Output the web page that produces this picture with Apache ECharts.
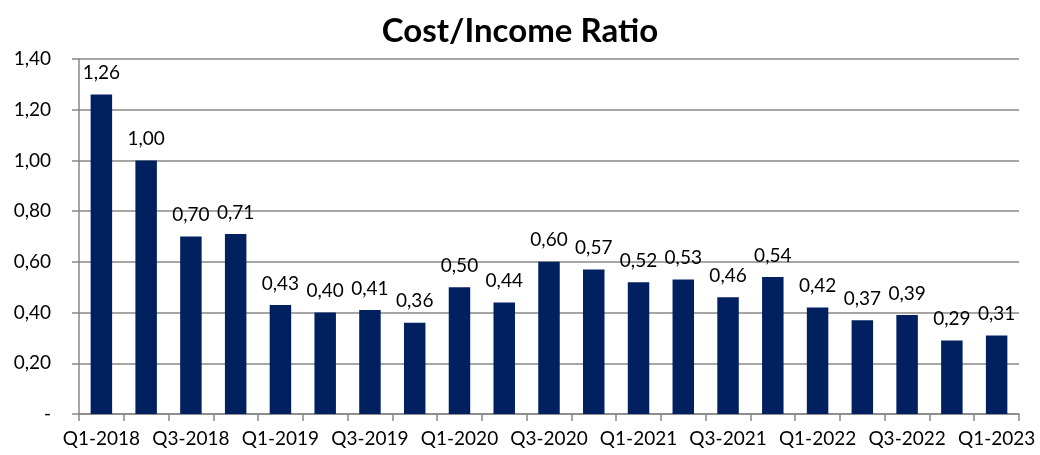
<!DOCTYPE html>
<html><head><meta charset="utf-8">
<script src="https://cdn.jsdelivr.net/npm/echarts@6/dist/echarts.min.js"></script>
<style>html,body{margin:0;padding:0;background:#fff}#c{width:1040px;height:455px}</style>
</head><body><div id="c"></div>
<script>
const categories = ["Q1-2018","Q2-2018","Q3-2018","Q4-2018","Q1-2019","Q2-2019","Q3-2019","Q4-2019","Q1-2020","Q2-2020","Q3-2020","Q4-2020","Q1-2021","Q2-2021","Q3-2021","Q4-2021","Q1-2022","Q2-2022","Q3-2022","Q4-2022","Q1-2023"];
const values = [1.26,1.00,0.70,0.71,0.43,0.40,0.41,0.36,0.50,0.44,0.60,0.57,0.52,0.53,0.46,0.54,0.42,0.37,0.39,0.29,0.31];
const yTicks = [0,0.2,0.4,0.6,0.8,1.0,1.2,1.4];
const FONT = "Lato";
const fmt = v => v === 0 ? "-" : v.toFixed(2).replace(".", ",");
const chart = echarts.init(document.getElementById('c'));
chart.setOption({
  animation:false,
  title:{text:"Cost/Income Ratio",left:"center",top:10,textStyle:{fontFamily:FONT,fontWeight:"bold",fontSize:33,color:"#000"}},
  grid:{left:79,right:21,top:59,bottom:41,containLabel:false},
  xAxis:{type:"category",data:categories,
    axisLine:{lineStyle:{color:"#888",width:1.5}},
    axisTick:{show:true,length:7,interval:0,lineStyle:{color:"#888",width:1.5}},
    axisLabel:{interval:1,fontFamily:FONT,fontSize:19,color:"#000",margin:15}},
  yAxis:{type:"value",min:yTicks[0],max:yTicks[yTicks.length-1],interval:0.2,
    axisLine:{show:true,lineStyle:{color:"#888",width:1.5}},
    axisTick:{show:true,length:7,lineStyle:{color:"#888",width:1.5}},
    splitLine:{lineStyle:{color:"#888",width:1.5}},
    axisLabel:{formatter:fmt,fontFamily:FONT,fontSize:19,color:"#000",margin:28}},
  series:[{type:"bar",data:values,barWidth:"48%",
    itemStyle:{color:"#002060"},
    label:{show:true,position:"top",formatter:p=>fmt(p.value),fontFamily:FONT,fontSize:19,color:"#000",distance:12}}]
});
</script></body></html>
